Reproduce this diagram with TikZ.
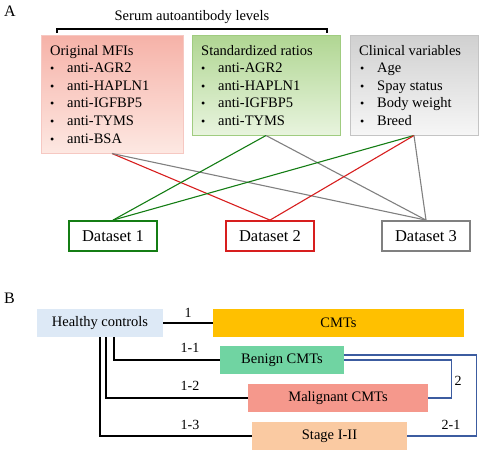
\documentclass[tikz,border=0pt]{standalone}
\usepackage{fontspec}
\setmainfont{Liberation Serif}
\begin{document}
\begin{tikzpicture}[x=1pt,y=-1pt,
  txt/.style={anchor=base west,inner sep=0,font=\fontsize{14.5}{16}\selectfont},
  bul/.style={anchor=base west,inner sep=0,font=\fontsize{12}{14}\selectfont},
  varbox/.style={draw,line width=1pt,inner sep=0},
  dsbox/.style={draw,line width=1.8pt,minimum width=88pt,minimum height=30pt,inner sep=0,font=\fontsize{16.5}{18}\selectfont},
  grpbox/.style={minimum height=28pt,inner sep=0,font=\fontsize{14.5}{16}\selectfont},
  lnk/.style={line width=1.1pt},
  blk/.style={line width=1.1pt,black},
  lab/.style={inner sep=0,font=\fontsize{14}{16}\selectfont}]
\definecolor{rtop}{RGB}{246,178,168}\definecolor{rbot}{RGB}{253,232,226}\definecolor{rbrd}{RGB}{246,200,194}
\definecolor{gtop}{RGB}{176,214,146}\definecolor{gbot}{RGB}{232,244,222}\definecolor{gbrd}{RGB}{160,204,128}
\definecolor{ytop}{RGB}{208,208,208}\definecolor{ybot}{RGB}{246,246,246}\definecolor{ybrd}{RGB}{196,196,196}
\definecolor{dgreen}{RGB}{20,125,20}\definecolor{dred}{RGB}{215,30,30}\definecolor{dgray}{RGB}{128,128,128}
\definecolor{hcblue}{RGB}{221,233,246}\definecolor{cmtor}{RGB}{255,192,0}
\definecolor{bengr}{RGB}{112,212,162}\definecolor{malrd}{RGB}{245,152,140}
\definecolor{stpch}{RGB}{250,202,162}\definecolor{lnblue}{RGB}{60,92,160}
\useasboundingbox (0,0) rectangle (480,451);
% Part A
\node[anchor=base west,inner sep=0,font=\fontsize{16}{18}\selectfont] (lA) at (4,16) {A};
\node[anchor=base,inner sep=0,font=\fontsize{14.5}{16}\selectfont] (title) at (192,20) {Serum autoantibody levels};
\coordinate (brL) at (57,33);\coordinate (brR) at (327,33);
\draw[line width=1.1pt] (brL) -- ++(0,-4) -| (brR);
% boxes
\node[varbox,draw=rbrd,top color=rtop,bottom color=rbot,minimum width=142pt,minimum height=118pt] (box1) at (112,94) {};
\node[varbox,draw=gbrd,top color=gtop,bottom color=gbot,minimum width=148pt,minimum height=100pt] (box2) at (266,85) {};
\node[varbox,draw=ybrd,top color=ytop,bottom color=ybot,minimum width=128pt,minimum height=100pt] (box3) at (414,85) {};
% box 1 text
\node[txt] (t10) at (50,55) {Original MFIs};
\foreach \t [count=\i] in {anti-AGR2,anti-HAPLN1,anti-IGFBP5,anti-TYMS,anti-BSA}{
  \node[bul] (b1\i) at (50,55+17.6*\i) {\textbullet};
  \node[txt] (t1\i) at (67,55+17.6*\i) {\t};}
\node[txt] (t20) at (201,55) {Standardized ratios};
\foreach \t [count=\i] in {anti-AGR2,anti-HAPLN1,anti-IGFBP5,anti-TYMS}{
  \node[bul] (b2\i) at (201,55+17.6*\i) {\textbullet};
  \node[txt] (t2\i) at (218,55+17.6*\i) {\t};}
\node[txt] (t30) at (359,55) {Clinical variables};
\foreach \t [count=\i] in {Age,Spay status,Body weight,Breed}{
  \node[bul] (b3\i) at (360,55+17.6*\i) {\textbullet};
  \node[txt] (t3\i) at (377,55+17.6*\i) {\t};}
% datasets
\node[dsbox,draw=dgreen] (ds1) at (113,236) {Dataset 1};
\node[dsbox,draw=dred] (ds2) at (270,236) {Dataset 2};
\node[dsbox,draw=dgray] (ds3) at (426,236) {Dataset 3};
% connectors
\draw[lnk,dred] (box1.south) -- (ds2.north);
\draw[lnk,dgray] (box1.south) -- (ds3.north);
\draw[lnk,dgreen] (box2.south) -- (ds1.north);
\draw[lnk,dgray] (box2.south) -- (ds3.north);
\draw[lnk,dgreen] (box3.south) -- (ds1.north);
\draw[lnk,dred] (box3.south) -- (ds2.north);
\draw[lnk,dgray] (box3.south) -- (ds3.north);
% Part B
\node[anchor=base west,inner sep=0,font=\fontsize{16}{18}\selectfont] (lB) at (4,303) {B};
\node[grpbox,fill=hcblue,minimum width=126pt] (hc) at (100,323) {Healthy controls};
\node[grpbox,fill=cmtor,minimum width=251pt] (cmt) at (338.5,323) {CMTs};
\node[grpbox,fill=bengr,minimum width=124pt] (ben) at (282,360) {Benign CMTs};
\node[grpbox,fill=malrd,minimum width=180pt] (mal) at (338,398) {Malignant CMTs};
\node[grpbox,fill=stpch,minimum width=155pt] (stg) at (329.5,436) {Stage I-II};
\draw[blk] (hc.east) -- node[lab,above=5pt] (l1) {1} (cmt.west);
\draw[blk] ([xshift=14pt]hc.south) |- (ben.west);
\draw[blk] ([xshift=6pt]hc.south) |- (mal.west);
\draw[blk] (hc.south) |- (stg.west);
\node[lab] (l11) at (190,348) {1-1};
\node[lab] (l12) at (190,386) {1-2};
\node[lab] (l13) at (190,425) {1-3};
\draw[lnk,lnblue] ([yshift=5pt]ben.east) -- ++(132,0) coordinate (c21) |- (stg.east);
\draw[lnk,lnblue] (ben.east) -- ++(107,0) coordinate (c2) |- (mal.east);
\node[lab] (l2) at (458,381) {2};
\node[lab] (l21) at (451,425) {2-1};
\end{tikzpicture}
\end{document}
